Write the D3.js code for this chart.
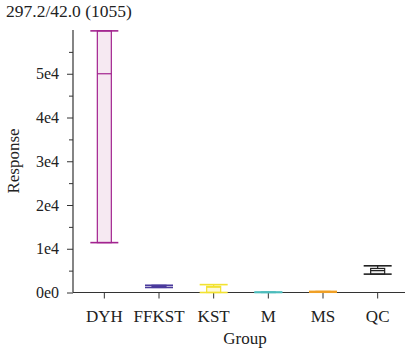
<!DOCTYPE html>
<html>
<head>
<meta charset="utf-8">
<script src="https://cdn.jsdelivr.net/npm/d3@7"></script>
<style>
  body { margin: 0; background: #fff; }
  svg text { font-family: "Liberation Serif", "DejaVu Serif", serif; fill: #222; }
</style>
</head>
<body>
<div class="chart"></div>
<script>
//DATA *************************************************************
const groups = ["DYH", "FFKST", "KST", "M", "MS", "QC"];
const minVals = [11400, 1150, 0, 0, 60, 4200];
const q1Vals = [11400, 1150, 0, 0, 60, 4200];
const medianVals = [50000, 1400, 1200, 50, 150, 5000];
const q3Vals = [59800, 1650, 1400, 100, 250, 5500];
const maxVals = [59800, 1650, 1800, 100, 250, 6100];
const strokeColors = ["#a2238f", "#4a3a9c", "#f2e230", "#4cbcbc", "#f0a026", "#222222"];
const fillColors = ["#f6e9f2", "#ecebf5", "#fdf9d6", "#e6f6f6", "#fdf0dd", "#f0f0f0"];
const yTicks = [0, 10000, 20000, 30000, 40000, 50000];
const yTickLabels = ["0e0", "1e4", "2e4", "3e4", "4e4", "5e4"];
const yMinorTicks = [5000, 15000, 25000, 35000, 45000, 55000];
const titleText = "297.2/42.0 (1055)";

//LAYOUT ***********************************************************
const width = 406, height = 355;
const svg = d3.select(".chart").append("svg")
  .attr("width", width).attr("height", height);

const xScale = d3.scaleBand().domain(groups).range([77, 405]);
const yScale = d3.scaleLinear().domain([0, 60000]).range([292.5, 30]);

const axisColor = "#333";

// y axis
const yAxis = d3.axisLeft(yScale).tickValues(yTicks)
  .tickFormat((d, i) => yTickLabels[i]).tickSize(6).tickPadding(8);
const gy = svg.append("g").attr("transform", "translate(73,0)").call(yAxis);
gy.select(".domain").remove();
gy.selectAll("line").attr("stroke", axisColor);
gy.selectAll("text").style("font-size", "16px").attr("fill", "#222");
svg.append("g").attr("transform", "translate(73,0)")
  .call(d3.axisLeft(yScale).tickValues(yMinorTicks).tickFormat("").tickSize(4))
  .call(g => g.select(".domain").remove())
  .selectAll("line").attr("stroke", axisColor);
svg.append("line").attr("x1", 73).attr("x2", 73)
  .attr("y1", yScale(60000)).attr("y2", yScale(0))
  .attr("stroke", axisColor).attr("stroke-width", 1.2);

// x axis
const xAxis = d3.axisBottom(xScale).tickSize(6).tickPadding(11);
const gx = svg.append("g").attr("transform", `translate(0,${yScale(0)})`).call(xAxis);
gx.select(".domain").remove();
gx.selectAll("line").attr("stroke", axisColor);
gx.selectAll("text").style("font-size", "17px").attr("fill", "#222");
svg.append("line").attr("x1", 73).attr("x2", 405)
  .attr("y1", yScale(0)).attr("y2", yScale(0))
  .attr("stroke", axisColor).attr("stroke-width", 1.2);

//BOXES ************************************************************
const boxW = 14, capW = 28;
const boxes = svg.append("g").selectAll("g").data(groups).enter().append("g");
boxes.each(function (g, i) {
  const sel = d3.select(this);
  const cx = xScale(g) + xScale.bandwidth() / 2;
  const c = strokeColors[i];
  // whisker
  sel.append("line").attr("x1", cx).attr("x2", cx)
    .attr("y1", yScale(maxVals[i])).attr("y2", yScale(minVals[i]))
    .attr("stroke", c).attr("stroke-width", 1.2);
  // box
  sel.append("rect").attr("x", cx - boxW / 2).attr("width", boxW)
    .attr("y", yScale(q3Vals[i]))
    .attr("height", Math.max(0.5, yScale(q1Vals[i]) - yScale(q3Vals[i])))
    .attr("fill", fillColors[i]).attr("stroke", c).attr("stroke-width", 1.2);
  // median
  sel.append("line").attr("x1", cx - boxW / 2).attr("x2", cx + boxW / 2)
    .attr("y1", yScale(medianVals[i])).attr("y2", yScale(medianVals[i]))
    .attr("stroke", c).attr("stroke-width", 1.2);
  // caps
  [maxVals[i], minVals[i]].forEach(v => {
    sel.append("line").attr("x1", cx - capW / 2).attr("x2", cx + capW / 2)
      .attr("y1", yScale(v)).attr("y2", yScale(v))
      .attr("stroke", c).attr("stroke-width", 1.6);
  });
});

//TEXT *************************************************************
svg.append("text").attr("x", 6).attr("y", 17)
  .style("font-size", "17.5px").text(titleText);
svg.append("text").attr("transform", "translate(19,161) rotate(-90)")
  .attr("text-anchor", "middle").style("font-size", "17px").text("Response");
svg.append("text").attr("x", 245).attr("y", 344)
  .attr("text-anchor", "middle").style("font-size", "17px").text("Group");
</script>
</body>
</html>
